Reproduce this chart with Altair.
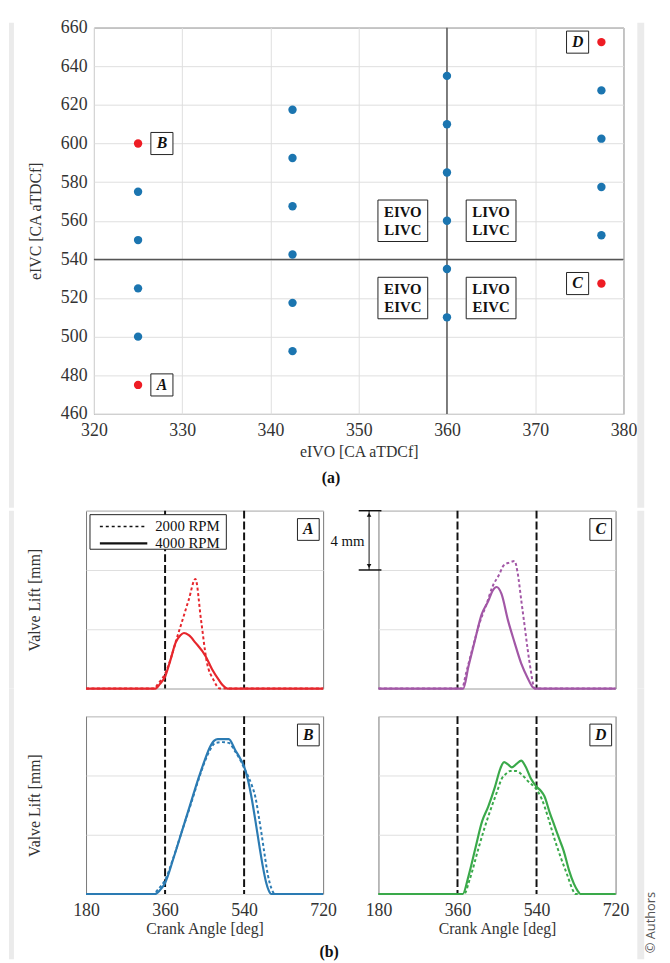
import altair as alt
import pandas as pd

SERIF = "Liberation Serif"

# ---------------- panel (a): design points ----------------
eivo = [325, 325, 325, 325, 325, 325,
        342.5, 342.5, 342.5, 342.5, 342.5, 342.5,
        360, 360, 360, 360, 360, 360,
        377.5, 377.5, 377.5, 377.5, 377.5, 377.5]
eivc = [475, 500, 525, 550, 575, 600,
        492.5, 517.5, 542.5, 567.5, 592.5, 617.5,
        510, 535, 560, 585, 610, 635,
        527.5, 552.5, 577.5, 602.5, 627.5, 652.5]
selected = ["sel", "base", "base", "base", "base", "sel",
            "base", "base", "base", "base", "base", "base",
            "base", "base", "base", "base", "base", "base",
            "sel", "base", "base", "base", "base", "sel"]

case_labels = ["A", "B", "C", "D"]
case_label_x = [327.7, 327.7, 374.8, 374.8]
case_label_y = [475, 600, 527.5, 652.5]

region_text = ["EIVO\nLIVC", "LIVO\nLIVC", "EIVO\nEIVC", "LIVO\nEIVC"]
region_x = [355, 365, 355, 365]
region_y = [560, 560, 520, 520]

x_ticks_a = [320, 330, 340, 350, 360, 370, 380]
y_ticks_a = [460, 480, 500, 520, 540, 560, 580, 600, 620, 640, 660]
ref_x = [360]
ref_y = [540]

# ---------------- panel (b): valve lift profiles ----------------
A_2000_deg = [180, 334, 345, 360, 391, 414, 429, 442, 455, 470, 485, 720]
A_2000_mm = [0, 0, 0.35, 1.0, 3.8, 6.0, 7.4, 4.6, 1.8, 0.6, 0, 0]
A_4000_deg = [180, 338, 348, 360, 372, 384, 395, 403, 414, 429, 452, 467, 482, 492, 502, 720]
A_4000_mm = [0, 0, 0.3, 0.8, 1.9, 3.1, 3.6, 3.75, 3.6, 3.1, 2.2, 1.3, 0.6, 0.2, 0, 0]

B_2000_deg = [180, 333, 345, 360, 380, 399, 418, 436, 450, 462, 475, 490, 505, 520, 532,
              540, 550, 558, 566, 573, 580, 587, 594, 602, 610, 720]
B_2000_mm = [0, 0, 0.35, 0.95, 2.55, 4.3, 6.0, 7.7, 8.9, 9.7, 10.2, 10.25, 10.2, 9.6, 9.0,
             8.5, 7.9, 7.3, 6.5, 5.3, 4.0, 2.6, 1.3, 0.4, 0, 0]
B_4000_deg = [180, 337, 348, 360, 380, 399, 418, 436, 450, 462, 472, 480, 505, 520, 532,
              540, 548, 557, 566, 575, 583, 590, 596, 602, 720]
B_4000_mm = [0, 0, 0.25, 0.75, 2.5, 4.3, 6.1, 7.8, 9.0, 9.9, 10.35, 10.45, 10.45, 9.7, 9.1,
             8.6, 7.8, 6.5, 4.9, 3.2, 1.8, 0.8, 0.25, 0, 0]

C_2000_deg = [180, 370, 380, 395, 410, 425, 440, 455, 465, 478, 490, 497, 505, 513, 520, 527, 533, 537, 720]
C_2000_mm = [0, 0, 1.1, 2.8, 4.4, 5.6, 6.9, 7.7, 8.3, 8.5, 8.6, 7.8, 6.0, 4.2, 2.6, 1.2, 0.2, 0, 0]
C_4000_deg = [180, 373, 385, 400, 415, 430, 440, 449, 460, 475, 490, 505, 520, 531, 536, 720]
C_4000_mm = [0, 0, 1.5, 3.3, 5.0, 5.9, 6.6, 6.85, 6.4, 4.6, 3.1, 1.7, 0.7, 0.1, 0, 0]

D_2000_deg = [180, 375, 388, 407, 422, 439, 450, 461, 470, 480, 494, 505, 521, 540, 552,
              566, 580, 596, 611, 622, 628, 720]
D_2000_mm = [0, 0, 1.0, 3.0, 4.5, 6.0, 6.9, 7.8, 8.1, 8.3, 8.3, 8.1, 7.6, 7.05, 6.4,
             5.2, 3.8, 2.4, 1.2, 0.3, 0, 0]
D_4000_deg = [180, 372, 385, 400, 416, 430, 445, 458, 466, 475, 484, 495, 505, 515, 527,
              540, 550, 558, 570, 581, 592, 602, 614, 625, 633, 640, 720]
D_4000_mm = [0, 0, 1.2, 3.0, 4.9, 5.9, 7.2, 8.5, 8.9, 8.75, 8.55, 8.8, 9.0, 8.6, 7.8,
             7.25, 6.95, 6.6, 5.5, 4.6, 3.7, 2.9, 1.6, 0.7, 0.25, 0, 0]

x_ticks_b = [180, 360, 540, 720]
y_ticks_b = [0, 4, 8, 12]
marker_deg = [360, 540]
legend_labels = ["2000 RPM", "4000 RPM"]

COLORS = {"A": "#e6262c", "B": "#2b7bb3", "C": "#a257a6", "D": "#3aa94a"}
FRAME_GRAY = "#ebebeb"

# ---------------- panel (a) chart ----------------
axis_style = dict(labelFont=SERIF, labelFontSize=18, labelColor="#333",
                  titleFont=SERIF, titleFontSize=16, titleColor="#333",
                  titleFontWeight="normal", gridColor="#dedede", gridWidth=1,
                  ticks=False, domain=False, labelFlush=False, labelOverlap=False)

xs = alt.Scale(domain=[320, 380], nice=False, zero=False)
ys = alt.Scale(domain=[460, 660], nice=False, zero=False)
x_ax = alt.Axis(values=x_ticks_a, title="eIVO [CA aTDCf]", labelPadding=8,
                titleY=38, titleBaseline="middle", **axis_style)
y_ax = alt.Axis(values=y_ticks_a, title="eIVC [CA aTDCf]", labelPadding=7,
                titleX=-59, titleY=195.5, titleAngle=270, titleBaseline="middle",
                titleAlign="center", **axis_style)

pts = pd.DataFrame({"x": eivo, "y": eivc, "kind": selected})
X = alt.X("x:Q", scale=xs, axis=x_ax)
Y = alt.Y("y:Q", scale=ys, axis=y_ax)

one_row = pd.DataFrame({"t": [""]})
# light page frame (left band and right strip) around the figure
frame_top = [
    alt.Chart(one_row).mark_rect(fill=FRAME_GRAY).encode(
        x=alt.value(-86), x2=alt.value(-81), y=alt.value(-5), y2=alt.value(486)),
    alt.Chart(one_row).mark_rect(fill=FRAME_GRAY).encode(
        x=alt.value(550), x2=alt.value(557), y=alt.value(-5), y2=alt.value(486)),
]

vrule = alt.Chart(pd.DataFrame({"x": ref_x})).mark_rule(color="#555", strokeWidth=1.5).encode(x=X)
hrule = alt.Chart(pd.DataFrame({"y": ref_y})).mark_rule(color="#555", strokeWidth=1.5).encode(y=Y)
dots = alt.Chart(pts).mark_circle(size=72, opacity=1).encode(
    x=X, y=Y,
    color=alt.Color("kind:N", scale=alt.Scale(domain=["base", "sel"], range=["#1b75b0", "#ee1c24"]), legend=None))

cl = pd.DataFrame({"x": case_label_x, "y": case_label_y, "t": case_labels})
cbox = alt.Chart(cl).mark_point(shape="square", size=500, filled=True, fill="white",
                                stroke="#222", strokeWidth=1, opacity=1).encode(x=X, y=Y)
ctext = alt.Chart(cl).mark_text(font=SERIF, fontSize=16, fontWeight="bold", fontStyle="italic",
                                color="#111", baseline="middle").encode(x=X, y=Y, text="t:N")

rg = pd.DataFrame({"x": region_x, "y": region_y, "t": region_text})
rbox = alt.Chart(rg).mark_point(shape="M-1.2,-1L1.2,-1L1.2,1L-1.2,1Z", size=1764, filled=True,
                                fill="white", stroke="#222", strokeWidth=1, opacity=1).encode(x=X, y=Y)
rtext = alt.Chart(rg).mark_text(font=SERIF, fontSize=15, fontWeight="bold", color="#111",
                                lineBreak="\n", lineHeight=18, baseline="middle", dy=-9).encode(
    x=X, y=Y, text="t:N")

cap_a = alt.Chart(pd.DataFrame({"t": ["(a)"]})).mark_text(
    font=SERIF, fontSize=16, fontWeight="bold", color="#111", baseline="middle").encode(
    x=alt.value(240), y=alt.value(456), text="t:N")

top = alt.layer(*frame_top, vrule, hrule, dots, cbox, ctext, rbox, rtext, cap_a).properties(
    width=536, height=391, view=alt.ViewBackground(stroke="#555", strokeWidth=1))


# ---------------- panel (b) charts ----------------
def panel(letter, d2, m2, d4, m4, bottom, left):
    col = COLORS[letter]
    bx = alt.Axis(values=x_ticks_b, labels=bottom, title="Crank Angle [deg]" if bottom else None,
                  labelPadding=8, titleY=35, titleBaseline="middle", grid=False, **axis_style)
    by = alt.Axis(values=y_ticks_b, labels=False, title="Valve Lift [mm]" if left else None,
                  titleX=-52, titleY=90, titleAngle=270, titleBaseline="middle",
                  titleAlign="center", **axis_style)
    PX = alt.X("deg:Q", scale=alt.Scale(domain=[180, 720], nice=False, zero=False), axis=bx)
    PY = alt.Y("mm:Q", scale=alt.Scale(domain=[0, 12], nice=False), axis=by)
    df2 = pd.DataFrame({"deg": d2, "mm": m2})
    df4 = pd.DataFrame({"deg": d4, "mm": m4})
    one = pd.DataFrame({"t": [letter]})
    layers = []
    # frame bands (left for A/B, right strip for C/D)
    band_x = (-78, -73) if left else (262, 269)
    band_y = (0, 180) if not bottom else (-28, 246)
    layers.append(alt.Chart(one).mark_rect(fill=FRAME_GRAY).encode(
        x=alt.value(band_x[0]), x2=alt.value(band_x[1]),
        y=alt.value(band_y[0]), y2=alt.value(band_y[1])))
    dashed = alt.Chart(df2).mark_line(color=col, strokeWidth=2, strokeDash=[3, 2.5],
                                      interpolate="monotone").encode(x=PX, y=PY)
    solid = alt.Chart(df4).mark_line(color=col, strokeWidth=2.2,
                                     interpolate="monotone").encode(x=PX, y=PY)
    vl = alt.Chart(pd.DataFrame({"deg": marker_deg})).mark_rule(
        color="#111", strokeWidth=2, strokeDash=[8, 3]).encode(x=PX)
    box = alt.Chart(one).mark_point(shape="square", size=484, filled=True, fill="white",
                                    stroke="#222", strokeWidth=1, opacity=1).encode(
        x=alt.value(225), y=alt.value(19))
    lab = alt.Chart(one).mark_text(font=SERIF, fontSize=16, fontWeight="bold", fontStyle="italic",
                                   color="#111", baseline="middle").encode(
        x=alt.value(225), y=alt.value(19), text="t:N")
    layers += [vl, dashed, solid, box, lab]
    if letter == "A":
        lg = pd.DataFrame({"t": legend_labels})
        layers += [
            alt.Chart(one).mark_rect(fill="white", stroke="#222", strokeWidth=1).encode(
                x=alt.value(4), x2=alt.value(142), y=alt.value(4), y2=alt.value(39)),
            alt.Chart(one).mark_rule(color="#111", strokeWidth=1.5, strokeDash=[3, 3]).encode(
                x=alt.value(14), x2=alt.value(62), y=alt.value(16)),
            alt.Chart(one).mark_rule(color="#111", strokeWidth=2.2).encode(
                x=alt.value(14), x2=alt.value(62), y=alt.value(33)),
            alt.Chart(lg.iloc[[0]]).mark_text(font=SERIF, fontSize=15, color="#111", align="left",
                                               baseline="middle").encode(
                x=alt.value(70), y=alt.value(16), text="t:N"),
            alt.Chart(lg.iloc[[1]]).mark_text(font=SERIF, fontSize=15, color="#111", align="left",
                                               baseline="middle").encode(
                x=alt.value(70), y=alt.value(33), text="t:N"),
        ]
    if letter == "C":
        mm = pd.DataFrame({"t": ["4 mm"]})
        layers += [
            alt.Chart(mm).mark_rule(color="#111", strokeWidth=1).encode(
                x=alt.value(-9.5), y=alt.value(0), y2=alt.value(60)),
            alt.Chart(mm).mark_rule(color="#111", strokeWidth=1.5).encode(
                x=alt.value(-20), x2=alt.value(3), y=alt.value(0)),
            alt.Chart(mm).mark_rule(color="#111", strokeWidth=1.5).encode(
                x=alt.value(-20), x2=alt.value(3), y=alt.value(60)),
            alt.Chart(mm).mark_point(shape="triangle-up", size=22, filled=True, color="#111",
                                     opacity=1).encode(x=alt.value(-9.5), y=alt.value(4)),
            alt.Chart(mm).mark_point(shape="triangle-down", size=22, filled=True, color="#111",
                                     opacity=1).encode(x=alt.value(-9.5), y=alt.value(56)),
            alt.Chart(mm).mark_text(font=SERIF, fontSize=15, color="#111", align="right",
                                    baseline="middle").encode(
                x=alt.value(-14), y=alt.value(31), text="t:N"),
        ]
    if letter == "B":
        layers.append(alt.Chart(pd.DataFrame({"t": ["(b)"]})).mark_text(
            font=SERIF, fontSize=16, fontWeight="bold", color="#111", baseline="middle").encode(
            x=alt.value(246), y=alt.value(239), text="t:N"))
    if letter == "D":
        layers.append(alt.Chart(pd.DataFrame({"t": ["© Authors"]})).mark_text(
            font="Open Sans", fontSize=13, color="#555", angle=270, align="left",
            baseline="middle").encode(x=alt.value(276), y=alt.value(240), text="t:N"))
    return alt.layer(*layers).properties(width=240, height=180,
                                         view=alt.ViewBackground(stroke="#777", strokeWidth=1))


pA = panel("A", A_2000_deg, A_2000_mm, A_4000_deg, A_4000_mm, False, True)
pC = panel("C", C_2000_deg, C_2000_mm, C_4000_deg, C_4000_mm, False, False)
pB = panel("B", B_2000_deg, B_2000_mm, B_4000_deg, B_4000_mm, True, True)
pD = panel("D", D_2000_deg, D_2000_mm, D_4000_deg, D_4000_mm, True, False)

grid = alt.concat(pA, pC, pB, pD, columns=2,
                  spacing=alt.RowColnumber(row=28, column=56), bounds="flush")

spacer = alt.Chart(pd.DataFrame({"s": [0]})).mark_point(opacity=0).encode(
    x=alt.value(0), y=alt.value(0)).properties(
    width=1, height=1, view=alt.ViewBackground(stroke="transparent"))
top_row = alt.hconcat(spacer, top, spacing=7, bounds="flush")

chart = alt.vconcat(top_row, grid, spacing=0, bounds="full").properties(
    padding={"left": 0, "top": 4, "right": 3, "bottom": 0}
).configure(font=SERIF, background="white").configure_axis(
    labelFont=SERIF, titleFont=SERIF)

chart.save("out.html", embed_options={"renderer": "svg", "actions": False})
